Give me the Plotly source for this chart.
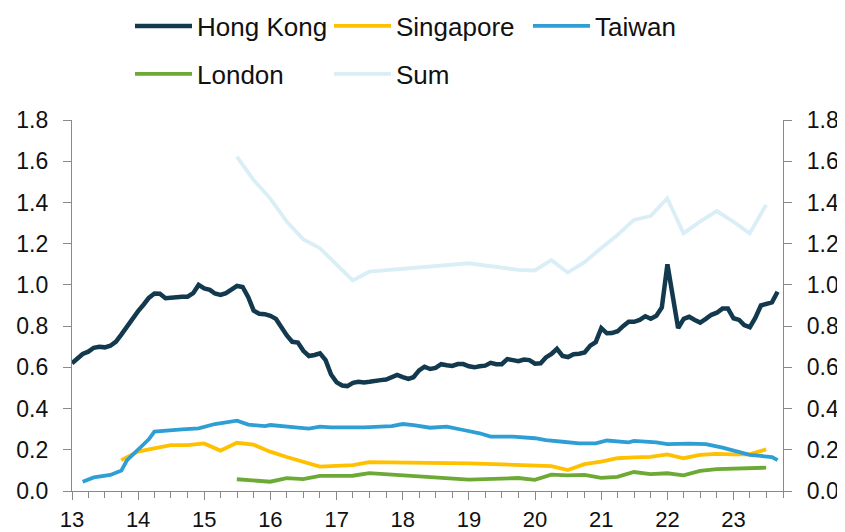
import plotly.graph_objects as go

# ---------------- data ----------------
hk_values = [
    0.620, 0.645, 0.665, 0.676, 0.695, 0.700, 0.697, 0.705, 0.725, 0.760,
    0.800, 0.840, 0.873, 0.905, 0.937, 0.958, 0.957, 0.935, 0.935, 0.940,
    0.943, 0.943, 0.960, 1.000, 0.983, 0.976, 0.958, 0.951, 0.960, 0.980,
    0.995, 0.990, 0.940, 0.875, 0.860, 0.858, 0.850, 0.835, 0.795, 0.755,
    0.724, 0.720, 0.680, 0.655, 0.660, 0.668, 0.635, 0.565, 0.527, 0.512,
    0.509, 0.525, 0.530, 0.527, 0.530, 0.536, 0.538, 0.541, 0.553, 0.563,
    0.553, 0.544, 0.552, 0.585, 0.603, 0.592, 0.597, 0.615, 0.610, 0.607,
    0.616, 0.616, 0.605, 0.600, 0.605, 0.608, 0.622, 0.615, 0.615, 0.640,
    0.635, 0.630, 0.638, 0.635, 0.618, 0.620, 0.648, 0.665, 0.690, 0.655,
    0.650, 0.664, 0.666, 0.672, 0.705, 0.722, 0.790, 0.765, 0.766, 0.775,
    0.800, 0.821, 0.821, 0.830, 0.848, 0.836, 0.850, 0.890, 1.100, 0.920,
    0.790, 0.835, 0.845, 0.830, 0.817, 0.835, 0.855, 0.865, 0.885, 0.885,
    0.838, 0.830, 0.805, 0.795, 0.840, 0.900, 0.910, 0.915, 0.967,
]
# monthly observations, January 2013 onwards
hk_dates = []
_y, _m = 2013, 1
for _ in hk_values:
    hk_dates.append(f"{_y}-{_m:02d}-01")
    _m += 1
    if _m > 12:
        _m, _y = 1, _y + 1

tw_dates = [
    "2013-03-01", "2013-05-01", "2013-08-01", "2013-10-01", "2013-11-01",
    "2014-01-01", "2014-03-01", "2014-04-01", "2014-07-01", "2014-09-01",
    "2014-12-01", "2015-03-01", "2015-07-01", "2015-09-01", "2015-12-01",
    "2016-01-01", "2016-06-01", "2016-08-01", "2016-10-01", "2016-12-01",
    "2017-06-01", "2017-11-01", "2018-01-01", "2018-03-01", "2018-06-01",
    "2018-09-01", "2018-12-01", "2019-03-01", "2019-05-01", "2019-09-01",
    "2020-01-01", "2020-03-01", "2020-06-01", "2020-09-01", "2020-12-01",
    "2021-02-01", "2021-06-01", "2021-07-01", "2021-11-01", "2022-01-01",
    "2022-05-01", "2022-08-01", "2022-11-01", "2023-02-01", "2023-04-01",
    "2023-06-01", "2023-08-01", "2023-09-01",
]
tw_values = [
    0.045, 0.066, 0.078, 0.100, 0.150,
    0.199, 0.251, 0.288, 0.296, 0.299,
    0.304, 0.325, 0.341, 0.322, 0.315,
    0.320, 0.308, 0.303, 0.312, 0.309,
    0.309, 0.315, 0.325, 0.320, 0.307,
    0.312, 0.296, 0.280, 0.264, 0.264,
    0.256, 0.247, 0.239, 0.231, 0.231,
    0.245, 0.236, 0.243, 0.236, 0.227,
    0.230, 0.227, 0.210, 0.191, 0.175,
    0.170, 0.165, 0.150,
]

sg_dates = [
    "2013-09-30", "2013-12-31", "2014-03-31", "2014-06-30", "2014-09-30",
    "2014-12-31", "2015-03-31", "2015-06-30", "2015-09-30", "2015-12-31",
    "2016-03-31", "2016-06-30", "2016-09-30", "2017-03-31", "2017-06-30",
    "2018-12-31", "2019-09-30", "2019-12-31", "2020-03-31", "2020-06-30",
    "2020-09-30", "2020-12-31", "2021-03-31", "2021-06-30", "2021-09-30",
    "2021-12-31", "2022-03-31", "2022-06-30", "2022-09-30", "2022-12-31",
    "2023-03-31", "2023-06-30",
]
sg_values = [
    0.150, 0.191, 0.207, 0.223, 0.223,
    0.231, 0.196, 0.234, 0.225, 0.191,
    0.165, 0.140, 0.118, 0.126, 0.140,
    0.134, 0.124, 0.120, 0.121, 0.102,
    0.130, 0.142, 0.159, 0.163, 0.166,
    0.178, 0.159, 0.175, 0.180, 0.178,
    0.178, 0.202,
]

ld_dates = [
    "2015-06-30", "2015-09-30", "2015-12-31", "2016-03-31", "2016-06-30",
    "2016-09-30", "2017-03-31", "2017-06-30", "2018-12-31", "2019-09-30",
    "2019-12-31", "2020-03-31", "2020-06-30", "2020-09-30", "2020-12-31",
    "2021-03-31", "2021-06-30", "2021-09-30", "2021-12-31", "2022-03-31",
    "2022-06-30", "2022-09-30", "2022-12-31", "2023-03-31", "2023-06-30",
]
ld_values = [
    0.057, 0.053, 0.045, 0.062, 0.058,
    0.073, 0.074, 0.087, 0.055, 0.063,
    0.054, 0.079, 0.076, 0.078, 0.064,
    0.069, 0.092, 0.082, 0.086, 0.076,
    0.098, 0.106, 0.109, 0.111, 0.113,
]

sum_dates = [
    "2015-06-30", "2015-09-30", "2015-12-31", "2016-03-31", "2016-06-30",
    "2016-09-30", "2017-03-31", "2017-06-30", "2018-12-31", "2019-09-30",
    "2019-12-31", "2020-03-31", "2020-06-30", "2020-09-30", "2020-12-31",
    "2021-03-31", "2021-06-30", "2021-09-30", "2021-12-31", "2022-03-31",
    "2022-06-30", "2022-09-30", "2022-12-31", "2023-03-31", "2023-06-30",
]
sum_values = [
    1.622, 1.509, 1.420, 1.307, 1.222,
    1.178, 1.022, 1.064, 1.105, 1.073,
    1.070, 1.120, 1.060, 1.110, 1.178,
    1.242, 1.315, 1.334, 1.420, 1.250,
    1.307, 1.358, 1.307, 1.250, 1.388,
]

y_ticks = [0.0, 0.2, 0.4, 0.6, 0.8, 1.0, 1.2, 1.4, 1.6, 1.8]
y_ticktext = ["0.0", "0.2", "0.4", "0.6", "0.8", "1.0", "1.2", "1.4", "1.6", "1.8"]

# ---------------- style ----------------
FONT = "Liberation Sans, Arial, sans-serif"
AX = "#898989"
C_HK = "#12394D"
C_SG = "#FFC000"
C_TW = "#2E9FD5"
C_LD = "#6CAA35"
C_SUM = "#DAEEF8"
TICK_FS = 23
LEG_FS = 26
W, H = 837, 524  # the page body adds an 8px margin around the figure

fig = go.Figure()
fig.add_trace(go.Scatter(x=hk_dates, y=hk_values, name="Hong Kong", mode="lines",
                         line=dict(color=C_HK, width=4.5), legend="legend"))
fig.add_trace(go.Scatter(x=sg_dates, y=sg_values, name="Singapore", mode="lines",
                         line=dict(color=C_SG, width=3.8), legend="legend"))
fig.add_trace(go.Scatter(x=tw_dates, y=tw_values, name="Taiwan", mode="lines",
                         line=dict(color=C_TW, width=3.8), legend="legend"))
fig.add_trace(go.Scatter(x=ld_dates, y=ld_values, name="London", mode="lines",
                         line=dict(color=C_LD, width=3.8), legend="legend2"))
fig.add_trace(go.Scatter(x=sum_dates, y=sum_values, name="Sum", mode="lines",
                         line=dict(color=C_SUM, width=3.8), legend="legend2",
                         yaxis="y2"))

yax = dict(range=[0, 1.8], tickvals=y_ticks, ticktext=y_ticktext,
           showgrid=False, zeroline=False, showline=True, linecolor=AX,
           linewidth=1.3, ticks="outside", ticklen=8, tickcolor=AX, tickwidth=1.3,
           tickfont=dict(family=FONT, size=TICK_FS, color="#111"), fixedrange=True,
           automargin=False, ticklabelstandoff=10)

leg = dict(orientation="h", xref="container", yref="container",
           xanchor="left", yanchor="middle",
           entrywidth=127, itemwidth=57,
           font=dict(family=FONT, size=LEG_FS, color="#111"),
           bgcolor="rgba(0,0,0,0)", tracegroupgap=0)

fig.update_layout(
    width=W, height=H,
    margin=dict(l=64, r=62, t=112, b=41, autoexpand=False),
    paper_bgcolor="white", plot_bgcolor="white",
    font=dict(family=FONT, size=LEG_FS, color="#111"),
    xaxis=dict(type="date", range=["2013-01-01", "2023-10-01"],
               dtick="M12", tick0="2013-01-01", tickformat="%y",
               showgrid=False, zeroline=False, showline=True, linecolor=AX,
               linewidth=1.3, ticks="outside", ticklen=8, tickcolor=AX, tickwidth=1.3,
               minor=dict(dtick="M3", ticks="outside", ticklen=6, tickcolor=AX,
                          tickwidth=1.3, showgrid=False),
               tickfont=dict(family=FONT, size=22, color="#111"),
               automargin=False, ticklabelstandoff=0),
    yaxis=dict(**yax, side="left"),
    yaxis2=dict(**yax, side="right", overlaying="y", anchor="x"),
    legend=dict(**leg, x=122 / W, y=1 - 18 / H),
    legend2=dict(**leg, x=122 / W, y=1 - 66 / H),
)

fig.write_html("out.html")
